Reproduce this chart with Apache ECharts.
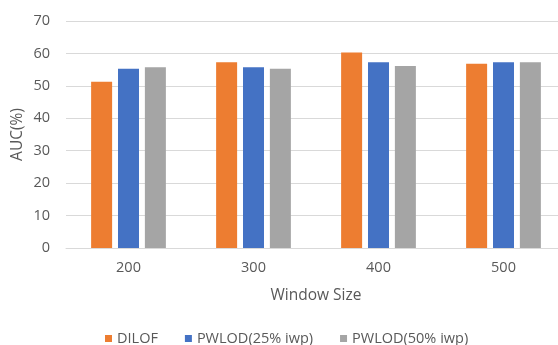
<!DOCTYPE html>
<html>
<head>
<meta charset="utf-8">
<script src="https://cdn.jsdelivr.net/npm/echarts@6/dist/echarts.min.js"></script>
<style>
  html, body { margin: 0; padding: 0; background: #fff; }
  #chart { width: 558px; height: 345px; }
</style>
</head>
<body>
<div id="chart"></div>
<script>
// Window sizes on the x axis
const windowSizes = ['200', '300', '400', '500'];

// AUC (%) per method
const dilof = [51.3, 57.3, 60.3, 56.8];
const pwlod25 = [55.3, 55.7, 57.3, 57.3];
const pwlod50 = [55.7, 55.3, 56.1, 57.3];

const seriesNames = ['DILOF', 'PWLOD(25% iwp)', 'PWLOD(50% iwp)'];
const seriesColors = ['#ED7D31', '#4472C4', '#A5A5A5'];

const textColor = '#595959';
const fontFamily = '"Open Sans", "Noto Sans", sans-serif';

const chart = echarts.init(document.getElementById('chart'), null, { renderer: 'canvas' });

const makeBar = (name, data, color) => ({
  name: name,
  type: 'bar',
  data: data,
  barWidth: 21,
  barGap: '28%',
  itemStyle: { color: color },
  emphasis: { disabled: true }
});

chart.setOption({
  animation: false,
  textStyle: { fontFamily: fontFamily },
  // the plot area runs a little past the right edge of the canvas
  grid: { left: 66, width: 500, top: 21, bottom: 97, containLabel: false, outerBoundsMode: 'none' },
  legend: {
    data: seriesNames,
    left: 100,
    top: 326,
    itemWidth: 7,
    itemHeight: 7,
    itemGap: 27,
    icon: 'rect',
    textStyle: { color: textColor, fontSize: 14.5, fontFamily: fontFamily }
  },
  xAxis: {
    type: 'category',
    data: windowSizes,
    name: 'Window Size',
    nameLocation: 'middle',
    nameGap: 40,
    nameTextStyle: { color: textColor, fontSize: 15.5, fontFamily: fontFamily },
    axisLine: { lineStyle: { color: '#d9d9d9' } },
    axisTick: { show: false },
    axisLabel: { color: textColor, fontSize: 14.5, margin: 12 }
  },
  yAxis: {
    type: 'value',
    min: 0,
    max: 70,
    interval: 10,
    name: 'AUC(%)',
    nameLocation: 'middle',
    nameGap: 40,
    nameMoveOverlap: false,
    nameTextStyle: { color: textColor, fontSize: 15.5, fontFamily: fontFamily },
    axisLine: { show: false },
    axisTick: { show: false },
    axisLabel: { color: textColor, fontSize: 14.5, margin: 16 },
    splitLine: { lineStyle: { color: '#d9d9d9' } }
  },
  series: [
    makeBar(seriesNames[0], dilof, seriesColors[0]),
    makeBar(seriesNames[1], pwlod25, seriesColors[1]),
    makeBar(seriesNames[2], pwlod50, seriesColors[2])
  ]
});
</script>
</body>
</html>
